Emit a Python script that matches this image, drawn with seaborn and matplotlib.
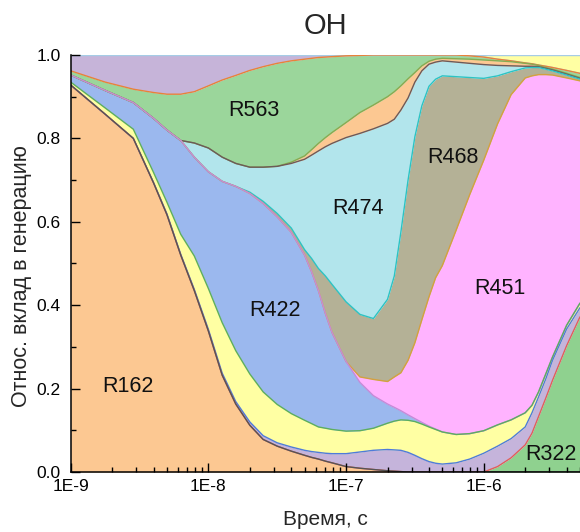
import numpy as np
import pandas as pd
import matplotlib
matplotlib.use("Agg")
import matplotlib.pyplot as plt
import seaborn as sns
from matplotlib.ticker import FixedLocator, LogLocator, MultipleLocator, NullFormatter, FixedFormatter

# ---------------- data (relative contribution of each reaction) ----------------
time_s = [1.0e-9, 1.78e-9, 2.85e-9, 4.0e-9, 5.0e-9, 6.3e-9, 7.9e-9, 1.0e-8, 1.26e-8, 1.58e-8,
          2.0e-8, 2.5e-8, 3.16e-8, 4.0e-8, 5.0e-8, 5.62e-8, 6.3e-8, 7.08e-8, 7.9e-8, 1.0e-7,
          1.26e-7, 1.58e-7, 2.0e-7, 2.24e-7, 2.5e-7, 2.82e-7, 3.16e-7, 3.55e-7, 4.0e-7, 4.47e-7,
          5.0e-7, 6.3e-7, 7.9e-7, 1.0e-6, 1.26e-6, 1.58e-6, 2.0e-6, 2.24e-6, 2.5e-6, 2.82e-6,
          3.16e-6, 4.0e-6, 5.0e-6]

R162 = [0.928, 0.858, 0.800, 0.693, 0.617, 0.520, 0.435, 0.338, 0.232, 0.163,
        0.112, 0.078, 0.062, 0.050, 0.040, 0.035, 0.031, 0.026, 0.022, 0.013,
        0.009, 0.006, 0.003, 0.002, 0.001, 0, 0, 0, 0, 0,
        0, 0, 0, 0, 0, 0, 0, 0, 0, 0, 0, 0, 0]
R322 = [0, 0, 0, 0, 0, 0, 0, 0, 0, 0, 0, 0, 0, 0, 0, 0, 0, 0, 0, 0,
        0, 0, 0, 0, 0, 0, 0, 0, 0, 0, 0, 0, 0, 0,
        0.013, 0.034, 0.065, 0.093, 0.133, 0.177, 0.220, 0.303, 0.372]
R_lav = [0, 0, 0, 0.001, 0.002, 0.002, 0.003, 0.004, 0.005, 0.006,
         0.008, 0.009, 0.008, 0.010, 0.012, 0.014, 0.016, 0.019, 0.022, 0.031,
         0.039, 0.046, 0.051, 0.051, 0.051, 0.047, 0.040, 0.032, 0.025, 0.021,
         0.019, 0.022, 0.031, 0.045, 0.049, 0.046, 0.043, 0.049, 0.047, 0.046,
         0.048, 0.040, 0.022]
R_yel = [0.007, 0.015, 0.022, 0.024, 0.028, 0.048, 0.080, 0.098, 0.121, 0.122,
         0.115, 0.105, 0.092, 0.080, 0.072, 0.067, 0.061, 0.060, 0.058, 0.054,
         0.051, 0.053, 0.063, 0.069, 0.073, 0.077, 0.081, 0.083, 0.083, 0.081,
         0.077, 0.068, 0.061, 0.054, 0.051, 0.045, 0.034, 0.018, 0.012, 0.012,
         0.008, 0.009, 0.011]
R422 = [0.017, 0.042, 0.064, 0.130, 0.173, 0.225, 0.237, 0.280, 0.339, 0.394,
        0.433, 0.452, 0.450, 0.435, 0.396, 0.364, 0.327, 0.275, 0.233, 0.167,
        0.116, 0.078, 0.046, 0.033, 0.022, 0.013, 0.007, 0.004, 0.002, 0.001,
        0, 0, 0, 0, 0, 0, 0, 0, 0, 0, 0, 0, 0]
R451 = [0, 0, 0, 0, 0, 0, 0, 0, 0, 0, 0, 0, 0, 0, 0, 0, 0, 0, 0, 0,
        0.013, 0.039, 0.054, 0.073, 0.091, 0.131, 0.182, 0.246, 0.310, 0.363,
        0.399, 0.490, 0.573, 0.649, 0.722, 0.780, 0.803, 0.790, 0.761, 0.718,
        0.676, 0.593, 0.533]
R468 = [0, 0, 0, 0, 0, 0, 0, 0, 0, 0,
        0.003, 0.005, 0.008, 0.010, 0.013, 0.032, 0.053, 0.090, 0.115, 0.143,
        0.150, 0.146, 0.197, 0.242, 0.337, 0.432, 0.494, 0.513, 0.505, 0.476,
        0.455, 0.368, 0.281, 0.196, 0.115, 0.055, 0.024, 0.020, 0.017, 0.013,
        0.010, 0.007, 0.004]
R474 = [0, 0, 0, 0, 0, 0, 0.034, 0.057, 0.058, 0.055,
        0.060, 0.082, 0.113, 0.155, 0.217, 0.248, 0.282, 0.310, 0.338, 0.394,
        0.434, 0.455, 0.422, 0.376, 0.293, 0.197, 0.131, 0.084, 0.053, 0.041,
        0.036, 0.035, 0.034, 0.033, 0.025, 0.014, 0.004, 0.003, 0.002, 0.002,
        0.002, 0.002, 0.002]
R_or2 = [0, 0, 0, 0, 0, 0, 0, 0, 0, 0, 0, 0, 0,
         0.003, 0.008, 0.013, 0.018, 0.022, 0.026, 0.036,
         0.050, 0.057, 0.064, 0.066, 0.058, 0.046, 0.023, 0.012, 0.007, 0.007,
         0.006, 0.008, 0.010, 0.011, 0.011, 0.010, 0.007, 0.005, 0.003, 0.002,
         0.002, 0.002, 0.002]
R563 = [0.010, 0.020, 0.032, 0.062, 0.086, 0.111, 0.123, 0.149, 0.185, 0.211,
        0.232, 0.241, 0.247, 0.243, 0.232, 0.219, 0.206, 0.193, 0.182, 0.160,
        0.137, 0.120, 0.100, 0.088, 0.074, 0.057, 0.042, 0.026, 0.015, 0.010,
        0.008, 0.009, 0.008, 0.007, 0.004, 0.002, 0.001, 0.001, 0.001, 0.003,
        0.004, 0.007, 0.010]
R_pur = [0.038, 0.065, 0.082, 0.090, 0.094, 0.094, 0.088, 0.074, 0.060, 0.049,
         0.037, 0.028, 0.020, 0.014, 0.010, 0.008, 0.006, 0.005, 0.004, 0.002,
         0.001, 0, 0, 0, 0, 0, 0, 0, 0, 0,
         0, 0, 0, 0, 0, 0, 0, 0, 0, 0, 0, 0, 0]
R_yel2 = [0, 0, 0, 0, 0, 0, 0, 0, 0, 0, 0, 0, 0, 0, 0, 0, 0, 0, 0, 0,
          0, 0, 0, 0, 0, 0, 0, 0, 0, 0, 0, 0,
          0.002, 0.005, 0.010, 0.014, 0.019, 0.021, 0.024, 0.027, 0.030, 0.037, 0.044]

layer_names = ["R162", "R322", "lav", "yel", "R422", "R451", "R468", "R474",
               "or2", "R563", "pur", "yel2"]
layer_values = [R162, R322, R_lav, R_yel, R422, R451, R468, R474, R_or2, R563, R_pur, R_yel2]

fill_colors = ["#FCC892", "#8FD18F", "#C5B4DB", "#FFFFA3", "#9BB8EE", "#FFB3FF",
               "#B4B196", "#B2E5EC", "#FCC892", "#9BD69B", "#C6B4D9", "#FFFFA3"]
edge_colors = ["#555555", "#E0605A", "#4F7BD9", "#5DAE5D", "#C58BD8", "#D4A040",
               "#2CC3C3", "#6B5A5A", "#8AAA50", "#E8823A", "#A6CCE6", "#A6CCE6"]

label_text = ["R162", "R422", "R563", "R474", "R468", "R451", "R322"]
label_t = [2.61e-9, 3.06e-8, 2.15e-8, 1.23e-7, 5.93e-7, 1.30e-6, 3.06e-6]
label_v = [0.206, 0.388, 0.866, 0.631, 0.755, 0.439, 0.041]

x_major = [1e-9, 1e-8, 1e-7, 1e-6]
x_tick_labels = ["1E-9", "1E-8", "1E-7", "1E-6"]
y_major = [0.0, 0.2, 0.4, 0.6, 0.8, 1.0]
y_tick_labels = ["0.0", "0.2", "0.4", "0.6", "0.8", "1.0"]

# ---------------- build stack ----------------
df = pd.DataFrame(dict(zip(layer_names, layer_values)), index=time_s)
df = df.div(df.sum(axis=1), axis=0)
cum = df.cumsum(axis=1)

sns.set_style("ticks")
plt.rcParams["font.family"] = ["Liberation Sans", "DejaVu Sans"]

W, H = 580, 532
fig = plt.figure(figsize=(W / 100, H / 100), dpi=100)
x0, x1, ybot, ytop = 70.7, 580.0, 472.0, 55.0
ax = fig.add_axes([x0 / W, 1 - ybot / H, (x1 - x0) / W, (ybot - ytop) / H])
ax.set_xscale("log")
ax.set_axisbelow(False)

t = np.array(time_s)
lower = np.zeros(len(t))
for name, fc in zip(layer_names, fill_colors):
    upper = cum[name].values
    ax.fill_between(t, lower, upper, color=fc, lw=0, zorder=1)
    lower = upper

# edge lines, drawn top layer first so lower edges stay visible
for name, ec in reversed(list(zip(layer_names, edge_colors))):
    sns.lineplot(x=t, y=cum[name].values, ax=ax, color=ec, lw=1.0, zorder=2,
                 estimator=None, sort=False)

for s, tx, vy in zip(label_text, label_t, label_v):
    ax.text(tx, vy, s, ha="center", va="center", fontsize=15.5, color="#111111", zorder=5)

ax.set_xlim(1e-9, 5e-6)
ax.set_ylim(0, 1.0)

ax.xaxis.set_major_locator(FixedLocator(x_major))
ax.xaxis.set_major_formatter(FixedFormatter(x_tick_labels))
ax.xaxis.set_minor_locator(LogLocator(base=10, subs=np.arange(2, 10)))
ax.xaxis.set_minor_formatter(NullFormatter())
ax.yaxis.set_major_locator(FixedLocator(y_major))
ax.yaxis.set_major_formatter(FixedFormatter(y_tick_labels))
ax.yaxis.set_minor_locator(MultipleLocator(0.1))

ax.tick_params(which="major", direction="in", length=6.5, width=1.0, labelsize=12.5,
               color="black", labelcolor="black")
ax.tick_params(which="minor", direction="in", length=3.5, width=1.0, color="black")
ax.tick_params(axis="x", which="major", pad=5)
ax.tick_params(axis="y", which="major", pad=7)

for side in ["top", "right"]:
    ax.spines[side].set_visible(False)
for side in ["left", "bottom"]:
    ax.spines[side].set_color("black")
    ax.spines[side].set_linewidth(1.1)
    ax.spines[side].set_zorder(10)

ax.set_xlabel("Время, с", fontsize=15)
ax.xaxis.label.set_va("baseline")
ax.xaxis.set_label_coords(0.5, -0.128)
ax.set_ylabel("Относ. вклад в генерацию", fontsize=15.5)
ax.yaxis.label.set_va("center")
ax.yaxis.set_label_coords(-0.097, 0.47)

ax.text(0.5, 1.05, "OH", transform=ax.transAxes, ha="center", va="baseline", fontsize=21)

fig.savefig("out.png", dpi=100, facecolor="white")
